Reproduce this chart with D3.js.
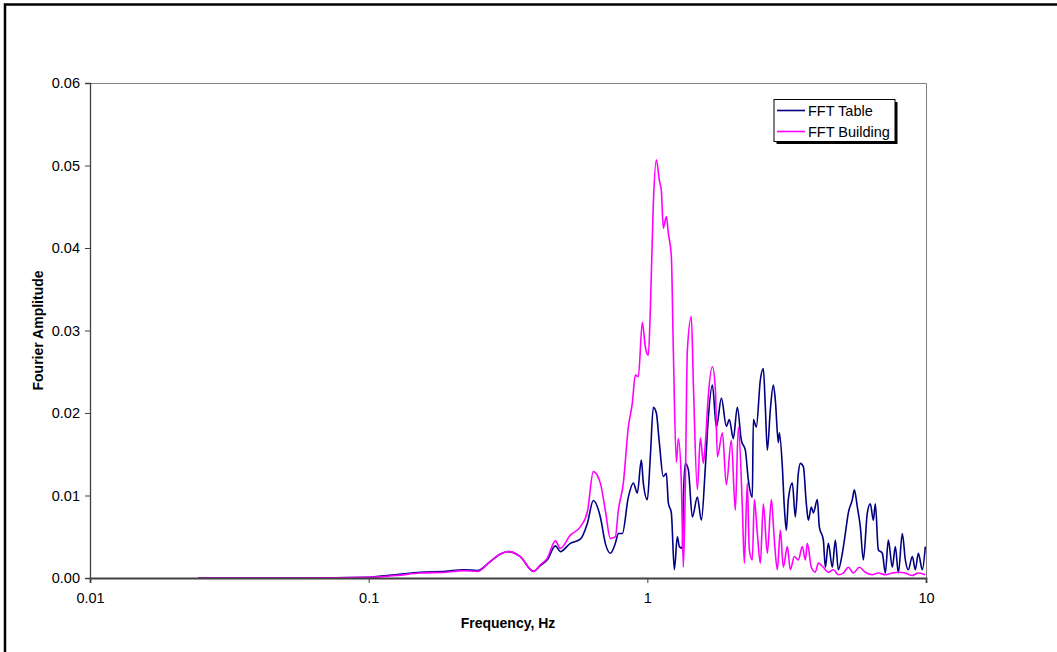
<!DOCTYPE html>
<html>
<head>
<meta charset="utf-8">
<script src="https://cdn.jsdelivr.net/npm/d3@7"></script>
<style>
  html, body { margin: 0; padding: 0; background: #fff; }
  svg { display: block; font-family: Arial, "Liberation Sans", sans-serif; }
</style>
</head>
<body>
<svg id="chart" width="1057" height="652"></svg>
<script>
// Fourier amplitude spectra: shake table input vs. building response
const tableFreq = [0.0245, 0.0569, 0.1, 0.1247, 0.1532, 0.1884, 0.2187, 0.2454, 0.2733, 0.2968, 0.3171, 0.3501, 0.3899, 0.4131, 0.4377, 0.4676, 0.4873, 0.5293, 0.5749, 0.6091, 0.64, 0.6782, 0.7068, 0.7366, 0.7677, 0.787, 0.8134, 0.8547, 0.8907, 0.9207, 0.9516, 0.9675, 1.0, 1.0251, 1.0508, 1.0772, 1.1042, 1.1413, 1.17, 1.1895, 1.2194, 1.25, 1.2815, 1.3029, 1.3356, 1.3467, 1.3692, 1.4036, 1.4507, 1.5119, 1.5628, 1.6154, 1.656, 1.7118, 1.7694, 1.8442, 1.9208, 1.969, 2.0352, 2.1037, 2.1743, 2.2474, 2.3037, 2.3811, 2.401, 2.4611, 2.5439, 2.6078, 2.6512, 2.6953, 2.763, 2.8324, 2.8795, 2.9518, 2.9764, 3.0511, 3.1019, 3.1535, 3.2063, 3.3139, 3.3971, 3.4824, 3.5404, 3.6293, 3.7204, 3.7825, 3.8775, 3.942, 4.0746, 4.1423, 4.2817, 4.3529, 4.4622, 4.612, 4.7277, 4.8464, 5.0091, 5.1348, 5.2637, 5.4408, 5.5314, 5.6703, 5.8124, 5.9584, 6.1584, 6.313, 6.4715, 6.5792, 6.7444, 6.9714, 7.1458, 7.3252, 7.5717, 7.7618, 7.9567, 8.2237, 8.4302, 8.6419, 8.9316, 9.1558, 9.3858, 9.7007, 9.9443];
const tableAmp = [0, 0, 0.0001, 0.0004, 0.0007, 0.0008, 0.001, 0.0009, 0.002, 0.0029, 0.0032, 0.0026, 0.0008, 0.0015, 0.0022, 0.0039, 0.0032, 0.0042, 0.0047, 0.0066, 0.0094, 0.0074, 0.0042, 0.003, 0.0042, 0.0054, 0.0054, 0.0098, 0.0115, 0.0103, 0.0143, 0.0115, 0.0095, 0.0147, 0.0207, 0.02, 0.0164, 0.0123, 0.0127, 0.0091, 0.0079, 0.001, 0.005, 0.0038, 0.0036, 0.0095, 0.0139, 0.0131, 0.0074, 0.0098, 0.007, 0.0135, 0.0195, 0.0234, 0.0183, 0.0218, 0.0184, 0.0192, 0.0169, 0.0207, 0.0167, 0.0155, 0.0119, 0.0098, 0.0192, 0.0183, 0.024, 0.0254, 0.0207, 0.0155, 0.0204, 0.0234, 0.0216, 0.0164, 0.0176, 0.0135, 0.0086, 0.0058, 0.0095, 0.0115, 0.0074, 0.0127, 0.0139, 0.0135, 0.009, 0.007, 0.0086, 0.0079, 0.0095, 0.0062, 0.0046, 0.0013, 0.0042, 0.0013, 0.0046, 0.001, 0.003, 0.0054, 0.0079, 0.0095, 0.0107, 0.0086, 0.0062, 0.0022, 0.0079, 0.009, 0.007, 0.009, 0.0034, 0.003, 0.0006, 0.0046, 0.0013, 0.0038, 0.0006, 0.0054, 0.0022, 0.001, 0.0026, 0.001, 0.003, 0.001, 0.0038];

const buildingFreq = [0.0245, 0.0569, 0.1, 0.1247, 0.1532, 0.1884, 0.2187, 0.2454, 0.2733, 0.2968, 0.3171, 0.3501, 0.3899, 0.4131, 0.4377, 0.4676, 0.4873, 0.5293, 0.5749, 0.6091, 0.64, 0.6782, 0.7068, 0.7366, 0.7677, 0.787, 0.8201, 0.8547, 0.8834, 0.9056, 0.9283, 0.9595, 0.9836, 1.0083, 1.0251, 1.0508, 1.0772, 1.1042, 1.1226, 1.1413, 1.17, 1.1895, 1.2194, 1.2397, 1.271, 1.2922, 1.3246, 1.3467, 1.3692, 1.392, 1.4387, 1.4627, 1.5119, 1.5499, 1.5889, 1.6154, 1.656, 1.7118, 1.7548, 1.7841, 1.8596, 1.9208, 2.0018, 2.0692, 2.1211, 2.1924, 2.2289, 2.2848, 2.3228, 2.3811, 2.4208, 2.4816, 2.5439, 2.6078, 2.6953, 2.786, 2.856, 2.9277, 3.0012, 3.0763, 3.1798, 3.2596, 3.369, 3.4824, 3.5993, 3.6897, 3.7513, 3.8775, 4.0076, 4.1081, 4.2817, 4.4622, 4.6504, 4.8464, 5.0508, 5.2637, 5.4857, 5.7646, 6.0577, 6.418, 6.7444, 7.1458, 7.5717, 7.9567, 8.4302, 8.9316, 9.3858, 9.9443];
const buildingAmp = [0, 0, 0.0001, 0.0003, 0.0006, 0.0007, 0.0009, 0.0008, 0.002, 0.0029, 0.0032, 0.0026, 0.0008, 0.0016, 0.0024, 0.0045, 0.0036, 0.0052, 0.0062, 0.008, 0.0129, 0.0115, 0.0082, 0.0048, 0.005, 0.0082, 0.0115, 0.0183, 0.0212, 0.0246, 0.0244, 0.031, 0.028, 0.027, 0.0325, 0.0454, 0.0507, 0.0482, 0.047, 0.0424, 0.0438, 0.0418, 0.039, 0.0276, 0.014, 0.0169, 0.0115, 0.0013, 0.0115, 0.0276, 0.0317, 0.0236, 0.0107, 0.017, 0.0139, 0.0164, 0.0222, 0.0256, 0.0228, 0.0147, 0.0176, 0.0113, 0.0167, 0.0082, 0.0183, 0.0086, 0.0018, 0.0115, 0.0034, 0.0022, 0.0095, 0.0054, 0.0018, 0.009, 0.003, 0.0095, 0.0046, 0.001, 0.0058, 0.0013, 0.0038, 0.001, 0.0026, 0.0022, 0.0038, 0.0022, 0.0042, 0.0013, 0.0007, 0.0018, 0.0013, 0.0007, 0.001, 0.0004, 0.0006, 0.0013, 0.0006, 0.0013, 0.0007, 0.0004, 0.0006, 0.0004, 0.0006, 0.0007, 0.0006, 0.0003, 0.0006, 0.0004];

const xTickValues = [0.01, 0.1, 1, 10];
const xTickLabels = ["0.01", "0.1", "1", "10"];
const yTickValues = [0, 0.01, 0.02, 0.03, 0.04, 0.05, 0.06];

const seriesNames = ["FFT Table", "FFT Building"];
const seriesColors = ["#000080", "#FF00FF"];

const svg = d3.select("#chart");

// outer chart frame
svg.append("rect")
  .attr("x", 5).attr("y", 4.5)
  .attr("width", 1120).attr("height", 720)
  .attr("fill", "none").attr("stroke", "#000").attr("stroke-width", 2.5);

const plot = { left: 90, right: 926, top: 83, bottom: 578 };

const x = d3.scaleLog().domain([0.01, 10]).range([plot.left, plot.right]);
const y = d3.scaleLinear().domain([0, 0.06]).range([plot.bottom, plot.top]);

// plot area border (top and right)
svg.append("path")
  .attr("d", `M${plot.left},${plot.top + 0.5}H${plot.right + 0.5}V${plot.bottom}`)
  .attr("fill", "none").attr("stroke", "#808080").attr("stroke-width", 1);

// series
const series = [
  { name: seriesNames[0], color: seriesColors[0], freq: tableFreq, amp: tableAmp },
  { name: seriesNames[1], color: seriesColors[1], freq: buildingFreq, amp: buildingAmp }
];

const line = d3.line()
  .x(d => x(d[0]))
  .y(d => y(d[1]))
  .curve(d3.curveMonotoneX);

svg.append("defs").append("clipPath").attr("id", "plotClip")
  .append("rect")
  .attr("x", plot.left).attr("y", plot.top)
  .attr("width", plot.right - plot.left + 1).attr("height", plot.bottom - plot.top + 1);

const lines = svg.append("g").attr("clip-path", "url(#plotClip)");
series.forEach(s => {
  lines.append("path")
    .datum(d3.zip(s.freq, s.amp))
    .attr("d", line)
    .attr("fill", "none")
    .attr("stroke", s.color)
    .attr("stroke-width", 1.6)
    .attr("stroke-linejoin", "round");
});

// y axis
const yAxis = svg.append("g")
  .attr("transform", `translate(${plot.left},0)`)
  .call(d3.axisLeft(y).tickValues(yTickValues).tickFormat(d3.format(".2f")).tickSize(5).tickPadding(5));
yAxis.select(".domain").attr("stroke", "#404040").attr("stroke-width", 1.3);
yAxis.selectAll(".tick line").attr("stroke", "#404040");
yAxis.selectAll("text").attr("font-size", "14.5px").attr("fill", "#000")
  .attr("font-family", "Arial, 'Liberation Sans', sans-serif");

// x axis
const xAxis = svg.append("g")
  .attr("transform", `translate(0,${plot.bottom})`)
  .call(d3.axisBottom(x).tickValues(xTickValues)
    .tickFormat((d, i) => xTickLabels[i]).tickSize(5).tickPadding(10));
xAxis.select(".domain").attr("stroke", "#404040").attr("stroke-width", 1.8);
xAxis.selectAll(".tick line").attr("stroke", "#404040");
xAxis.selectAll("text").attr("font-size", "14.5px").attr("fill", "#000")
  .attr("font-family", "Arial, 'Liberation Sans', sans-serif");

// axis titles
svg.append("text")
  .attr("x", (plot.left + plot.right) / 2).attr("y", 628)
  .attr("text-anchor", "middle")
  .attr("font-size", "14px").attr("font-weight", "bold")
  .text("Frequency, Hz");

svg.append("text")
  .attr("transform", `translate(43,${(plot.top + plot.bottom) / 2}) rotate(-90)`)
  .attr("text-anchor", "middle")
  .attr("font-size", "14px").attr("font-weight", "bold")
  .text("Fourier Amplitude");

// legend
const legend = svg.append("g").attr("transform", "translate(774,99.5)");
legend.append("rect")
  .attr("x", 2.5).attr("y", 2.5).attr("width", 121).attr("height", 42)
  .attr("fill", "#000");
legend.append("rect")
  .attr("x", 0).attr("y", 0).attr("width", 121).attr("height", 42)
  .attr("fill", "#fff").attr("stroke", "#000").attr("stroke-width", 1);
series.forEach((s, i) => {
  const ly = 11 + i * 21;
  legend.append("line")
    .attr("x1", 3).attr("x2", 31).attr("y1", ly).attr("y2", ly)
    .attr("stroke", s.color).attr("stroke-width", 1.6);
  legend.append("text")
    .attr("x", 34).attr("y", ly + 5)
    .attr("font-size", "14.5px")
    .text(s.name);
});
</script>
</body>
</html>
